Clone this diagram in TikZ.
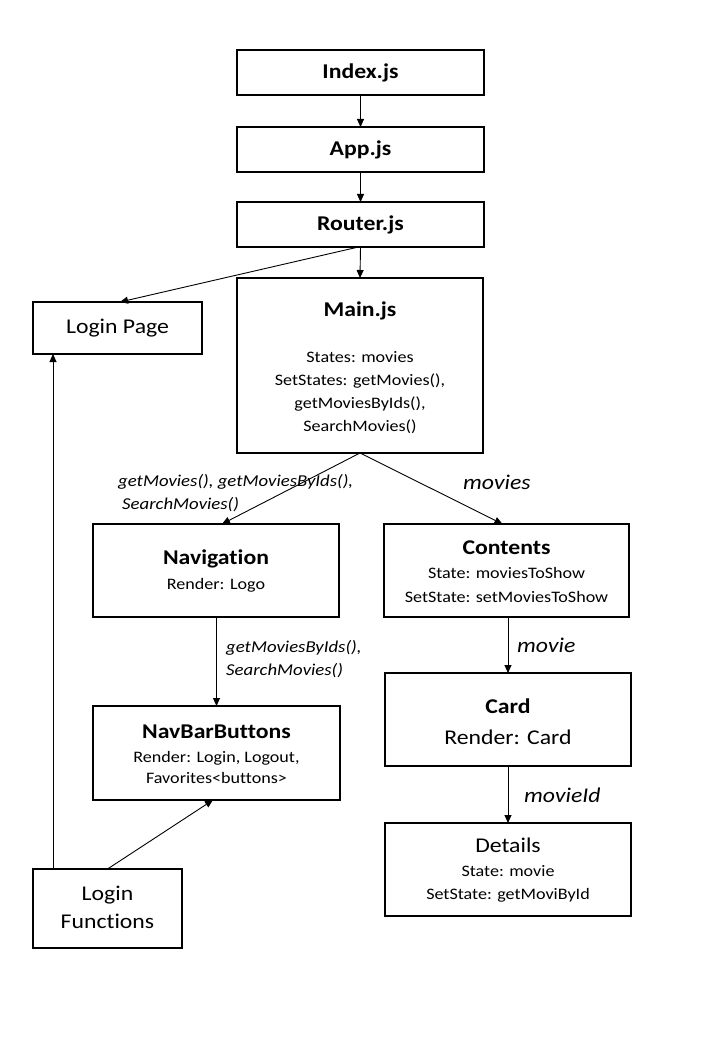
\documentclass[tikz,border=0pt]{standalone}
\usepackage{fontspec}
\setmainfont{Carlito}[FakeStretch=1.13,Ligatures=NoCommon]
\usetikzlibrary{arrows.meta}
\begin{document}
\begin{tikzpicture}[x=1pt,y=-1pt,
  box/.style={draw,line width=1.3pt,rectangle,inner sep=0pt,outer sep=0pt},
  ttl/.style={font=\fontsize{21}{25}\selectfont\bfseries,inner sep=0pt},
  big/.style={font=\fontsize{21}{28}\selectfont,inner sep=0pt,align=center},
  body/.style={font=\fontsize{16}{23}\selectfont,inner sep=0pt,align=center},
  elab/.style={font=\fontsize{16.6}{23}\selectfont\itshape,inner sep=0pt,anchor=west},
  elabbig/.style={font=\fontsize{21}{25}\selectfont\itshape,inner sep=0pt,anchor=west},
  arr/.style={draw,line width=0.9pt,-{Triangle[length=8pt,width=7pt]}}]
\useasboundingbox[fill=white] (0,0) rectangle (720,1040);

% boxes
\node[box,minimum width=247pt,minimum height=45pt,ttl] (idx) at (360.5,72.5) {Index.js};
\node[box,minimum width=247pt,minimum height=45pt,ttl] (app) at (360.5,149.5) {App.js};
\node[box,minimum width=247pt,minimum height=45pt,ttl] (router) at (360.5,224.5) {Router.js};
\node[box,minimum width=246pt,minimum height=175pt] (main) at (360,365.5) {};
\node[box,minimum width=169pt,minimum height=52pt,big] (login) at (117.5,328) {Login Page};
\node[box,minimum width=246pt,minimum height=93pt] (nav) at (216,570.5) {};
\node[box,minimum width=245pt,minimum height=93pt] (contents) at (506.5,570.5) {};
\node[box,minimum width=247pt,minimum height=94pt] (navbar) at (216.5,753) {};
\node[box,minimum width=246pt,minimum height=93pt] (card) at (508,719.5) {};
\node[box,minimum width=246pt,minimum height=93pt] (details) at (508,869.5) {};
\node[box,minimum width=149pt,minimum height=79pt] (loginfn) at (107.5,908.5) {};

% box texts
\node[ttl] (mainT) at (360,311) {Main.js};
\node[body] (mainB) at (360,393) {States: movies\\SetStates: getMovies(),\\getMoviesByIds(),\\SearchMovies()};
\node[ttl] (navT) at (216,559) {Navigation};
\node[body] (navB) at (216,585) {Render: Logo};
\node[ttl] (contT) at (506.5,548) {Contents};
\node[body,font=\fontsize{16}{24}\selectfont] (contB) at (506.5,585.5) {State: moviesToShow\\SetState: setMoviesToShow};
\node[ttl] (navbarT) at (216.5,732) {NavBarButtons};
\node[body,font=\fontsize{16}{21}\selectfont] (navbarB) at (216.5,767.5) {Render: Login, Logout,\\Favorites<buttons>};
\node[ttl] (cardT) at (508,706) {Card};
\node[big] (cardB) at (508,737) {Render: Card};
\node[big] (detT) at (508,845) {Details};
\node[body] (detB) at (508,884) {State: movie\\SetState: getMoviById};
\node[big] (lfT) at (107.5,907) {Login\\Functions};

% connectors
\draw[arr] (idx.south) -- (app.north);
\draw[arr] (app.south) -- (router.north);
\draw[arr] (router.south) -- (main.north);
\draw[arr] ([xshift=-2pt]router.south) -- ([xshift=2.5pt]login.north);
\draw[arr] (main.south) -- ([xshift=6pt]nav.north);
\draw[arr] (main.south) -- ([xshift=-4pt]contents.north);
\draw[arr] ([xshift=0.5pt]nav.south) -- (navbar.north);
\draw[arr] (card.north |- contents.south) -- (card.north);
\draw[arr] (card.south) -- (details.north);
\coordinate (lfup) at ([xshift=-54.5pt]loginfn.north);
\draw[arr] (lfup) -- (lfup |- login.south);
\draw[arr] (loginfn.north) -- ([xshift=-3.5pt]navbar.south);

% edge labels
\node[elab] (e1a) at (118,482) {getMovies(), getMoviesByIds(),};
\node[elab] (e1b) at (122,505) {SearchMovies()};
\node[elabbig] (e2) at (463,482) {movies};
\node[elab] (e3a) at (226,648) {getMoviesByIds(),};
\node[elab] (e3b) at (226,671) {SearchMovies()};
\node[elabbig] (e4) at (517,645) {movie};
\node[elabbig] (e5) at (524,795) {movieId};
\end{tikzpicture}
\end{document}
